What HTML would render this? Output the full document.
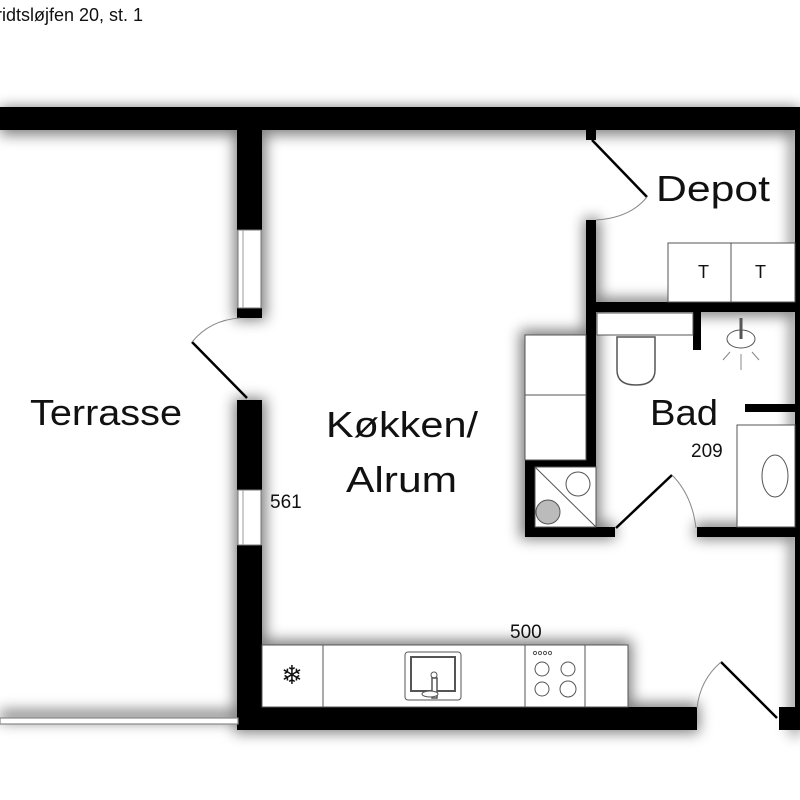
<!DOCTYPE html>
<html><head><meta charset="utf-8"><style>
html,body{margin:0;padding:0;background:#fff;width:800px;height:800px;overflow:hidden}
svg{display:block}
text{font-family:"Liberation Sans",sans-serif;fill:#111}
</style></head><body>
<svg width="800" height="800" viewBox="0 0 800 800" xmlns="http://www.w3.org/2000/svg">
<defs>
<filter id="sh" x="-20%" y="-20%" width="140%" height="140%"><feGaussianBlur stdDeviation="7"/></filter>
</defs>
<text x="-4" y="21" font-size="18">ridtsløjfen 20, st. 1</text>
<!-- white floor areas -->
<rect x="0" y="130" width="238" height="585" fill="#fff"/>
<rect x="262" y="130" width="533" height="578" fill="#fff"/>
<!-- shadows -->
<g filter="url(#sh)" fill="#000" opacity="0.5">
<rect x="0" y="107" width="800" height="28"/>
<rect x="234" y="125" width="32" height="195"/>
<rect x="234" y="398" width="32" height="335"/>
<rect x="234" y="703" width="465" height="30"/>
<rect x="584" y="218" width="16" height="320"/>
<rect x="584" y="298" width="216" height="18"/>
<rect x="790" y="125" width="10" height="610"/>
<rect x="260" y="640" width="372" height="70"/>
<rect x="520" y="330" width="80" height="205"/>
<rect x="520" y="523" width="95" height="16"/>
<rect x="695" y="523" width="105" height="16"/>
<rect x="0" y="710" width="238" height="12"/>
</g>
<!-- walls -->
<g fill="#000">
<rect x="0" y="107" width="800" height="23"/>
<rect x="237" y="130" width="25" height="100"/>
<rect x="237" y="308" width="25" height="10"/>
<rect x="237" y="400" width="25" height="90"/>
<rect x="237" y="545" width="25" height="185"/>
<rect x="237" y="707" width="460" height="23"/>
<rect x="779" y="707" width="21" height="23"/>
<rect x="795" y="130" width="5" height="600"/>
<rect x="586" y="130" width="10" height="10"/>
<rect x="586" y="220" width="10" height="310"/>
<rect x="586" y="302" width="214" height="10"/>
<rect x="693" y="312" width="8" height="38"/>
<rect x="745" y="404" width="55" height="8"/>
<rect x="525" y="527" width="90" height="10"/>
<rect x="697" y="527" width="103" height="10"/>
<rect x="525" y="460" width="10" height="77"/>
<rect x="525" y="460" width="71" height="7"/>
</g>
<!-- windows -->
<rect x="238" y="230" width="23" height="78" fill="#fff" stroke="#777" stroke-width="1"/>
<line x1="243" y1="230" x2="243" y2="308" stroke="#999"/>
<rect x="238" y="490" width="23" height="55" fill="#fff" stroke="#777" stroke-width="1"/>
<line x1="243" y1="490" x2="243" y2="545" stroke="#999"/>
<rect x="0" y="718" width="238" height="6" fill="#fff" stroke="#888" stroke-width="1.2"/>
<!-- doors -->
<g fill="none">
<line x1="247" y1="398" x2="192" y2="342" stroke="#000" stroke-width="2.5"/>
<path d="M192 342 Q210 320 240 318" stroke="#888" stroke-width="1"/>
<line x1="592" y1="140" x2="647" y2="197" stroke="#000" stroke-width="2.5"/>
<path d="M647 197 Q630 218 596 220" stroke="#888" stroke-width="1"/>
<line x1="616" y1="528" x2="672" y2="475" stroke="#000" stroke-width="2.5"/>
<path d="M672 475 Q692 495 696 528" stroke="#888" stroke-width="1"/>
<line x1="721" y1="662" x2="777" y2="718" stroke="#000" stroke-width="2.5"/>
<path d="M721 662 Q700 680 697 708" stroke="#888" stroke-width="1"/>
</g>
<!-- kitchen counter -->
<g fill="#fff" stroke="#555" stroke-width="1">
<rect x="262" y="645" width="366" height="62"/>
<line x1="323" y1="645" x2="323" y2="707"/>
<line x1="525" y1="645" x2="525" y2="707"/>
<line x1="585" y1="645" x2="585" y2="707"/>
<rect x="405" y="652" width="56" height="48" rx="3"/>
<rect x="411" y="657" width="44" height="34" stroke-width="2"/>
<circle cx="434" cy="675" r="3"/>
<rect x="432" y="678" width="5" height="20" stroke-width="1.5"/>
<ellipse cx="430" cy="694" rx="8" ry="3"/>
<circle cx="542" cy="669" r="7"/><circle cx="568" cy="669" r="7"/>
<circle cx="542" cy="689" r="7"/><circle cx="568" cy="689" r="8"/>
<circle cx="535" cy="653" r="1.6"/><circle cx="540" cy="653" r="1.6"/><circle cx="545" cy="653" r="1.6"/><circle cx="550" cy="653" r="1.6"/>
</g>
<text x="292" y="684" font-size="26" text-anchor="middle" fill="#333" style="font-family:'DejaVu Sans',sans-serif">❄</text>
<!-- cabinets / bath -->
<g fill="#fff" stroke="#555" stroke-width="1">
<rect x="525" y="335" width="61" height="125"/>
<line x1="525" y1="395" x2="586" y2="395"/>
<rect x="535" y="467" width="61" height="60"/>
<line x1="535" y1="467" x2="596" y2="527"/>
<circle cx="578" cy="484" r="12"/>
<circle cx="548" cy="512" r="12" fill="#bbb"/>
<rect x="668" y="243" width="127" height="59"/>
<line x1="731" y1="243" x2="731" y2="302"/>
<rect x="597" y="313" width="96" height="22"/>
<rect x="737" y="425" width="58" height="102"/>
<ellipse cx="775" cy="476" rx="13" ry="21"/>
<ellipse cx="741" cy="339" rx="14" ry="9"/>
<path d="M617 337 L617 370 Q617 385 636 385 Q655 385 655 370 L655 337 Z" stroke-width="1.5"/>
</g>
<line x1="741" y1="318" x2="741" y2="339" stroke="#555" stroke-width="3"/>
<g stroke="#888" stroke-width="1"><line x1="741" y1="354" x2="741" y2="370"/><line x1="730" y1="352" x2="723" y2="360"/><line x1="752" y1="352" x2="759" y2="360"/></g>
<!-- labels -->
<text x="30" y="425" font-size="36" textLength="152" lengthAdjust="spacingAndGlyphs">Terrasse</text>
<text x="326" y="437" font-size="36" textLength="152" lengthAdjust="spacingAndGlyphs">Køkken/</text>
<text x="346" y="492" font-size="36" textLength="111" lengthAdjust="spacingAndGlyphs">Alrum</text>
<text x="656" y="201" font-size="36" textLength="114" lengthAdjust="spacingAndGlyphs">Depot</text>
<text x="650" y="425" font-size="36" textLength="68" lengthAdjust="spacingAndGlyphs">Bad</text>
<text x="691" y="457" font-size="19">209</text>
<text x="270" y="508" font-size="19">561</text>
<text x="510" y="638" font-size="19">500</text>
<text x="698" y="278" font-size="18">T</text>
<text x="755" y="278" font-size="18">T</text>
</svg>
</body></html>
